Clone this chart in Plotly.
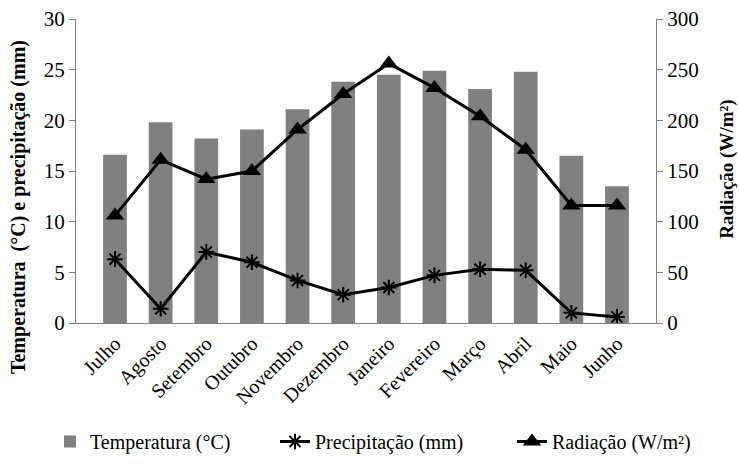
import plotly.graph_objects as go

months = ["Julho", "Agosto", "Setembro", "Outubro", "Novembro", "Dezembro",
          "Janeiro", "Fevereiro", "Março", "Abril", "Maio", "Junho"]
temperatura = [16.6, 19.8, 18.2, 19.1, 21.1, 23.8, 24.5, 24.9, 23.1, 24.8, 16.5, 13.5]
precipitacao = [6.3, 1.4, 7.0, 6.0, 4.2, 2.8, 3.5, 4.7, 5.3, 5.2, 1.0, 0.6]
radiacao = [106, 161, 142, 150, 191, 226, 256, 232, 204, 171, 116, 116]

FONT = "Liberation Serif"

fig = go.Figure()
fig.add_trace(go.Bar(x=months, y=temperatura, name="Temperatura (°C)", legend="legend",
                     marker=dict(color="#808080", line=dict(width=0)), width=0.52))
fig.add_trace(go.Scatter(x=months, y=precipitacao, name="Precipitação (mm)", legend="legend2",
                         mode="lines+markers",
                         line=dict(color="black", width=3),
                         marker=dict(symbol="asterisk-open", size=13,
                                     line=dict(color="black", width=2), color="black")))
fig.add_trace(go.Scatter(x=months, y=radiacao, name="Radiação (W/m²)", yaxis="y2",
                         legend="legend3", mode="lines+markers",
                         line=dict(color="black", width=3),
                         marker=dict(symbol="triangle-up", size=16, color="black")))

def leg(xpx):
    return dict(orientation="h", xref="container", yref="container",
                x=xpx / 739, xanchor="left", y=3 / 464, yanchor="bottom",
                font=dict(size=20, family=FONT, color="black"),
                bgcolor="rgba(0,0,0,0)")

fig.update_layout(
    width=739, height=464,
    margin=dict(l=76, r=83, t=19, b=141),
    plot_bgcolor="white", paper_bgcolor="white",
    font=dict(family=FONT, color="black", size=19),
    showlegend=True,
    legend=leg(50), legend2=leg(275), legend3=leg(512),
    xaxis=dict(showline=True, linecolor="#808080", linewidth=1, tickangle=-45,
               ticks="", showgrid=False, automargin=False,
               tickfont=dict(size=20, family=FONT, color="black")),
    yaxis=dict(range=[0, 30], dtick=5, showline=True, linecolor="#808080", linewidth=1,
               ticks="outside", ticklen=6, tickcolor="#808080", showgrid=False,
               zeroline=False, automargin=False,
               tickfont=dict(size=21, family=FONT, color="black")),
    yaxis2=dict(range=[0, 300], dtick=50, overlaying="y", side="right",
                showline=True, linecolor="#808080", linewidth=1,
                ticks="outside", ticklen=6, tickcolor="#808080", showgrid=False,
                zeroline=False, automargin=False,
                tickfont=dict(size=21, family=FONT, color="black")),
    annotations=[
        dict(text="<b>Temperatura  (°C) e precipitação (mm)</b>", textangle=-90,
             xref="paper", yref="paper", x=-0.098, y=0.382, showarrow=False,
             xanchor="center", yanchor="middle",
             font=dict(size=20, family=FONT, color="black")),
        dict(text="<b>Radiação (W/m²)</b>", textangle=-90,
             xref="paper", yref="paper", x=1.122, y=0.507, showarrow=False,
             xanchor="center", yanchor="middle",
             font=dict(size=19, family=FONT, color="black")),
    ],
)

fig.write_html("out.html")
